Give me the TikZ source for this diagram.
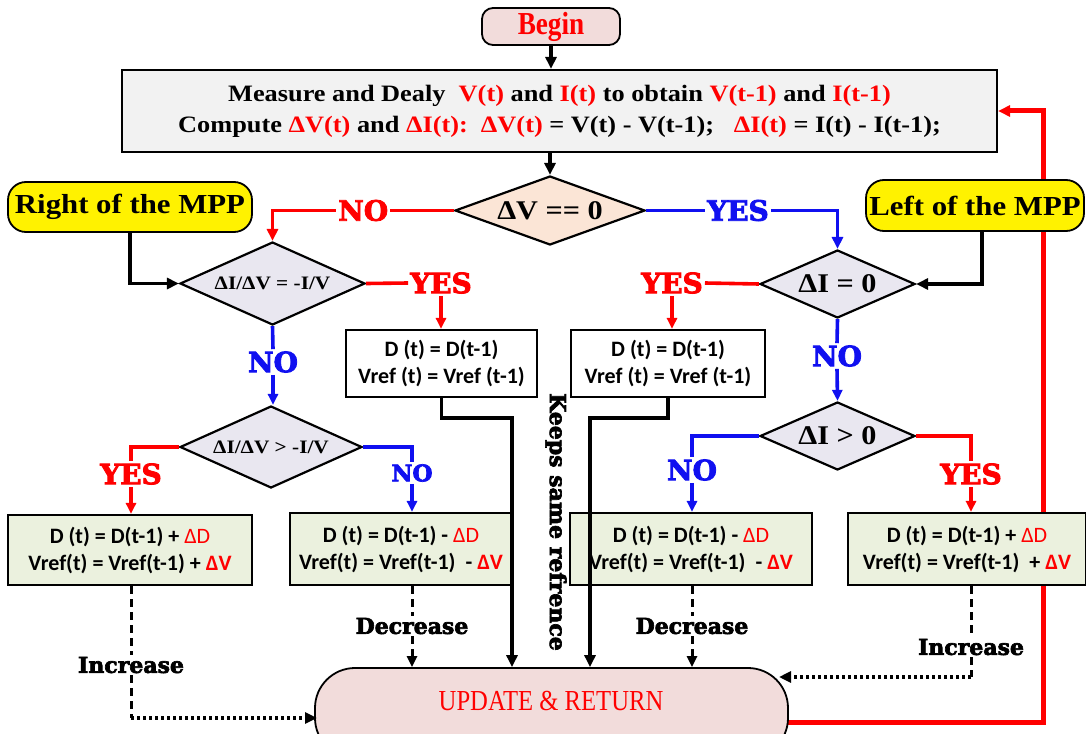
\documentclass[tikz,border=0pt]{standalone}
\usepackage{fontspec}
\setmainfont{Liberation Serif}
\newfontfamily\cambfont[FakeStretch=1.12]{Liberation Serif}
\newfontfamily\condfont[FakeStretch=0.85]{Liberation Serif}
\newfontfamily\calfont{Carlito}
\newfontfamily\heavyfont[BoldFeatures={FakeBold=3}]{DejaVu Serif}
\usetikzlibrary{shapes.geometric,arrows.meta,calc}
\pgfdeclarelayer{bg}
\pgfsetlayers{bg,main}

\definecolor{beginpink}{HTML}{F2DCDB}
\definecolor{peach}{HTML}{FBE5D6}
\definecolor{lavender}{HTML}{E9E7F0}
\definecolor{panelgray}{HTML}{F2F2F2}
\definecolor{stepgreen}{HTML}{EBF1DE}
\definecolor{flowred}{HTML}{FF0000}
\definecolor{flowblue}{HTML}{1010F0}

\tikzset{
  startbox/.style={draw=black, line width=1.8pt, fill=beginpink, rounded corners=11pt,
    inner sep=0pt, text=flowred, font=\condfont\bfseries\fontsize{32}{36}\selectfont},
  panel/.style={draw=black, line width=2.2pt, fill=panelgray, inner sep=0pt, align=center,
    font=\cambfont\bfseries\fontsize{23.5}{31}\selectfont},
  dia/.style={diamond, draw=black, line width=2.2pt, fill=lavender, inner sep=0pt, aspect=2.5},
  bigdia/.style={font=\cambfont\bfseries\fontsize{27}{30}\selectfont},
  smalldia/.style={font=\cambfont\bfseries\fontsize{19}{22}\selectfont},
  ybox/.style={draw=black, line width=1.8pt, fill=yellow, rounded corners=18pt, inner sep=0pt,
    font=\cambfont\bfseries\fontsize{27.5}{30}\selectfont},
  holdbox/.style={draw=black, line width=2.2pt, fill=white, inner sep=0pt, align=center,
    font=\calfont\bfseries\fontsize{22}{27}\selectfont},
  stepbox/.style={draw=black, line width=2.2pt, fill=stepgreen, inner sep=0pt, align=center,
    font=\calfont\bfseries\fontsize{22}{27}\selectfont},
  endbox/.style={draw=black, line width=1.8pt, fill=beginpink, rounded corners=40pt, inner sep=0pt},
  lab/.style={inner sep=2pt, font=\heavyfont\bfseries\fontsize{28}{30}\selectfont},
  smalllab/.style={inner sep=2pt, font=\heavyfont\bfseries\fontsize{23}{26}\selectfont},
  note/.style={inner sep=2pt, font=\heavyfont\bfseries\fontsize{22}{24}\selectfont},
  tip/.style={-{Triangle[length=12pt,width=11pt]}},
  smalltip/.style={-{Triangle[length=11pt,width=10pt]}},
  blk/.style={draw=black, line width=3.8pt, tip},
  redc/.style={draw=flowred, line width=3.6pt},
  bluec/.style={draw=flowblue, line width=3.6pt},
  dashv/.style={draw=black, line width=3pt, dash pattern=on 8pt off 5pt},
  doth/.style={draw=black, line width=3.8pt, dash pattern=on 3.4pt off 2.6pt},
}

\begin{document}
\begin{tikzpicture}[x=1pt,y=-1pt]
\useasboundingbox (0,0) rectangle (1086,733);

% start and measurement block
\node[startbox, minimum width=138, minimum height=37] (begin) at (551,26.5) {Begin};
\node[panel, minimum width=875, minimum height=82] (measure) at (559.5,111)
  {Measure and Dealy\ \ \textcolor{flowred}{V(t)} and \textcolor{flowred}{I(t)} to obtain \textcolor{flowred}{V(t-1)} and \textcolor{flowred}{I(t-1)}\\
   Compute \textcolor{flowred}{ΔV(t)} and \textcolor{flowred}{ΔI(t):}\ \ \textcolor{flowred}{ΔV(t)} = V(t) - V(t-1);\ \ \ \textcolor{flowred}{ΔI(t)} = I(t) - I(t-1);};

% decisions
\node[dia, bigdia, fill=peach, minimum width=190, minimum height=69] (dv) at (550,210.5) {ΔV == 0};
\node[dia, smalldia, minimum width=185, minimum height=83] (d1) at (272.5,283.5) {ΔI/ΔV = -I/V};
\node[dia, smalldia, minimum width=182, minimum height=82] (d2) at (271,447) {ΔI/ΔV > -I/V};
\node[dia, bigdia, minimum width=155, minimum height=68] (d3) at (837.5,284) {ΔI = 0};
\node[dia, bigdia, minimum width=155, minimum height=68] (d4) at (837.5,436) {ΔI > 0};

% side markers
\node[ybox, minimum width=244, minimum height=50] (rmpp) at (130,207) {Right of the MPP};
\node[ybox, minimum width=218, minimum height=51] (lmpp) at (975,205.5) {Left of the MPP};

% hold blocks
\node[holdbox, minimum width=191, minimum height=67] (keep1) at (441.5,363.5) {D (t) = D(t-1)\\Vref (t) = Vref (t-1)};
\node[holdbox, minimum width=194, minimum height=67] (keep2) at (668,363.5) {D (t) = D(t-1)\\Vref (t) = Vref (t-1)};

% step blocks
\node[stepbox, minimum width=244, minimum height=70] (incA) at (130,550)
  {D (t) = D(t-1) + \textcolor{flowred}{\mdseries ΔD}\\Vref(t) = Vref(t-1) + \textcolor{flowred}{ΔV}};
\node[stepbox, minimum width=222, minimum height=72] (decA) at (401,549)
  {D (t) = D(t-1) - \textcolor{flowred}{\mdseries ΔD}\\Vref(t) = Vref(t-1)\ \ - \textcolor{flowred}{ΔV}};
\node[stepbox, minimum width=242, minimum height=72] (decB) at (691,549)
  {D (t) = D(t-1) - \textcolor{flowred}{\mdseries ΔD}\\Vref(t) = Vref(t-1)\ \ - \textcolor{flowred}{ΔV}};
\node[stepbox, minimum width=238, minimum height=72] (incB) at (967,549)
  {D (t) = D(t-1) + \textcolor{flowred}{\mdseries ΔD}\\Vref(t) = Vref(t-1)\ \ + \textcolor{flowred}{ΔV}};

% end block
\node[endbox, minimum width=473, minimum height=90] (upd) at (551.5,713) {};
\node[text=flowred, font=\condfont\fontsize{29}{32}\selectfont] (updtext) at (551,701) {UPDATE \& RETURN};

% branch labels
\node[lab, text=flowred] (yes1) at (441,283) {YES};
\node[lab, text=flowred] (yes2) at (672,283) {YES};
\node[lab, text=flowblue] (no1) at (273,362) {NO};
\node[lab, text=flowblue] (no3) at (837,356) {NO};
\node[lab, text=flowred] (yes3) at (131,474) {YES};
\node[smalllab, text=flowblue] (no2) at (412,473) {NO};
\node[lab, text=flowblue] (no4) at (692,470) {NO};
\node[lab, text=flowred] (yes4) at (971,474) {YES};

% step annotations
\node[note] (dec1) at (412,626) {Decrease};
\node[note] (dec2) at (692,626) {Decrease};
\node[note] (inc1) at (131,665) {Increase};
\node[note] (inc2) at (971,647) {Increase};
\node[note, rotate=-90] (keeps) at (556,522) {Keeps same refrence};

% main flow
\draw[blk] (begin.south) -- (begin.south |- measure.north);
\draw[blk] (measure.south -| dv.north) -- (dv.north);
\draw[redc, tip] (dv.west) -| node[pos=0.25, lab, text=flowred, fill=white] (notop) {NO} (d1.north);
\draw[bluec, tip] (dv.east) -| node[pos=0.24, lab, text=flowblue, fill=white] (yestop) {YES} (d3.north);
\draw[blk] (rmpp.south) |- (d1.west);
\draw[blk] ([xshift=7pt]lmpp.south) |- (d3.east);

% left branch
\draw[redc] (d1.east) -- (yes1.west);
\draw[redc, smalltip] (yes1.south) -- (yes1.south |- keep1.north);
\draw[bluec] (d1.south) -- (no1.north);
\draw[bluec, smalltip] (no1.south) -- (no1.south |- d2.north);
\draw[redc] (d2.west) -| (yes3.north);
\draw[redc, smalltip] (yes3.south) -- (yes3.south |- incA.north);
\draw[bluec] (d2.east) -| (no2.north);
\draw[bluec, smalltip] (no2.south) -- (no2.south |- decA.north);

% right branch
\draw[redc] (d3.west) -- (yes2.east);
\draw[redc, smalltip] (yes2.south) -- (yes2.south |- keep2.north);
\draw[bluec] (d3.south) -- (no3.north);
\draw[bluec, smalltip] (no3.south) -- (d4.north);
\draw[bluec] (d4.west) -| (no4.north);
\draw[bluec, smalltip] (no4.south) -- (no4.south |- decB.north);
\draw[redc] (d4.east) -| (yes4.north);
\draw[redc, smalltip] (yes4.south) -- (yes4.south |- incB.north);

% hold paths to the end block
\coordinate (k1) at (512,418);
\coordinate (k2) at (590,418);
\draw[blk] (keep1.south) |- (k1) -- (k1 |- upd.north);
\draw[blk] (keep2.south) |- (k2) -- (k2 |- upd.north);

% step paths to the end block
\coordinate (c1) at (131,718);
\coordinate (c1e) at (317,718);
\draw[dashv] (inc1 |- incA.south) -- (inc1.north);
\draw[dashv] (inc1.south) -- (c1);
\draw[doth, tip] (c1) -- (c1e);
\draw[dashv] (dec1 |- decA.south) -- (dec1.north);
\draw[dashv, smalltip] (dec1.south) -- (dec1 |- upd.north);
\draw[dashv] (dec2 |- decB.south) -- (dec2.north);
\draw[dashv, smalltip] (dec2.south) -- (dec2 |- upd.north);
\coordinate (c2) at (971,677);
\coordinate (c2e) at (779,677);
\draw[dashv] (inc2 |- incB.south) -- (inc2.north);
\draw[dashv] (inc2.south) -- (c2);
\draw[doth, tip] (c2) -- (c2e);

% loop back to the measurement block
\begin{pgfonlayer}{bg}
\coordinate (fb) at (760,722);
\coordinate (fbx) at (1043,0);
\draw[draw=flowred, line width=5pt, tip] (fb) -| (measure.east -| fbx) -- (measure.east);
\end{pgfonlayer}
\end{tikzpicture}
\end{document}
